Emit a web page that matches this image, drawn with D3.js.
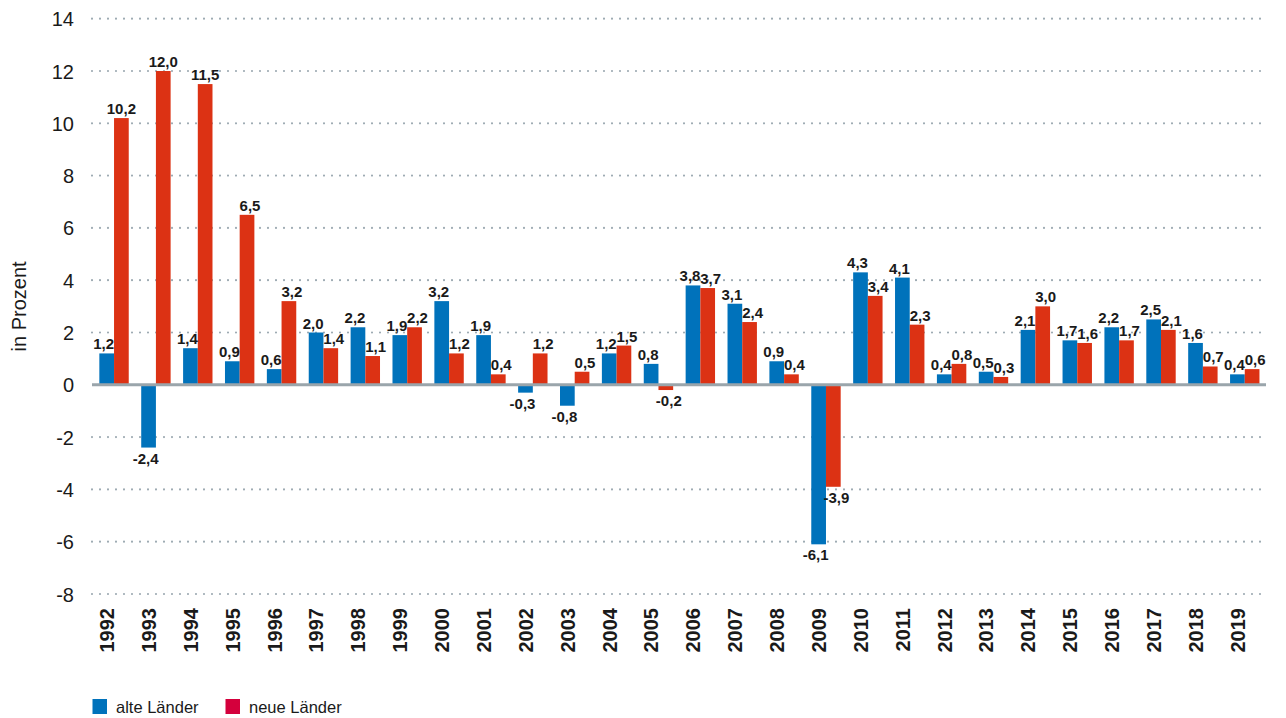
<!DOCTYPE html>
<html lang="de">
<head>
<meta charset="utf-8">
<script src="https://cdn.jsdelivr.net/npm/d3@7"></script>
<style>
  html, body { margin: 0; padding: 0; background: #fff; }
  svg { display: block; font-family: "Liberation Sans", Arial, sans-serif; }
</style>
</head>
<body>
<svg id="chart" width="1286" height="718"></svg>
<script>
// Veränderung gegenüber Vorjahr, in Prozent
const years = ["1992","1993","1994","1995","1996","1997","1998","1999","2000","2001",
  "2002","2003","2004","2005","2006","2007","2008","2009","2010","2011",
  "2012","2013","2014","2015","2016","2017","2018","2019"];
const alteLaender = [1.2, -2.4, 1.4, 0.9, 0.6, 2.0, 2.2, 1.9, 3.2, 1.9,
  -0.3, -0.8, 1.2, 0.8, 3.8, 3.1, 0.9, -6.1, 4.3, 4.1,
  0.4, 0.5, 2.1, 1.7, 2.2, 2.5, 1.6, 0.4];
const neueLaender = [10.2, 12.0, 11.5, 6.5, 3.2, 1.4, 1.1, 2.2, 1.2, 0.4,
  1.2, 0.5, 1.5, -0.2, 3.7, 2.4, 0.4, -3.9, 3.4, 2.3,
  0.8, 0.3, 3.0, 1.6, 1.7, 2.1, 0.7, 0.6];
const yTicks = [-8, -6, -4, -2, 0, 2, 4, 6, 8, 10, 12, 14];
const seriesNames = ["alte Länder", "neue Länder"];

const colors = { alt: "#0072bb", neu: "#dc3214" };
const legendColors = ["#0072bb", "#d4003c"];
const textColor = "#1a1a1a";

const svg = d3.select("#chart");

const x = d3.scaleBand().domain(years).range([93.1, 1265.7])
  .paddingInner(0.298).paddingOuter(0.149);
const xSub = d3.scaleBand().domain(["alt", "neu"]).range([0, x.bandwidth()]);
const y = d3.scaleLinear().domain([-8, 14]).range([594, 18.7]);

const gridX0 = 92, gridX1 = 1266;

// dotted horizontal gridlines
svg.append("g").selectAll("line")
  .data(yTicks.filter(t => t !== 0))
  .join("line")
  .attr("x1", gridX0).attr("x2", gridX1)
  .attr("y1", d => y(d)).attr("y2", d => y(d))
  .attr("stroke", "#9eabb3")
  .attr("stroke-width", 2.2)
  .attr("stroke-linecap", "round")
  .attr("stroke-dasharray", "0 8");

// y axis tick labels
const yAxis = d3.axisLeft(y).tickValues(yTicks).tickSize(0).tickPadding(0)
  .tickFormat(d => d3.format("d")(d).replace("−", "-"));
svg.append("g")
  .attr("transform", "translate(74,0)")
  .call(yAxis)
  .call(g => g.select(".domain").remove())
  .call(g => g.selectAll("text")
    .attr("font-size", 20)
    .attr("font-family", "Liberation Sans, Arial, sans-serif")
    .attr("fill", textColor)
    .attr("dy", "0.35em"));

// axis title
svg.append("text")
  .attr("transform", `translate(26,${y(3)}) rotate(-90)`)
  .attr("text-anchor", "middle")
  .attr("font-size", 20)
  .attr("fill", textColor)
  .text("in Prozent");

const rows = years.map((yr, i) => ({ year: yr, alt: alteLaender[i], neu: neueLaender[i] }));

const groups = svg.append("g").selectAll("g")
  .data(rows)
  .join("g")
  .attr("transform", d => `translate(${x(d.year)},0)`);

const barData = d => [
  { key: "alt", value: d.alt, shift: -3 },
  { key: "neu", value: d.neu, shift: d.neu > 9 ? 0 : 3 }
];

groups.selectAll("rect")
  .data(barData)
  .join("rect")
  .attr("x", d => xSub(d.key))
  .attr("width", xSub.bandwidth())
  .attr("y", d => y(Math.max(0, d.value)))
  .attr("height", d => Math.abs(y(d.value) - y(0)))
  .attr("fill", d => colors[d.key]);

// value labels
const fmt = v => d3.format(".1f")(v).replace("−", "-").replace(".", ",");
groups.selectAll("text.val")
  .data(barData)
  .join("text")
  .attr("class", "val")
  .attr("x", d => xSub(d.key) + xSub.bandwidth() / 2 + d.shift)
  .attr("y", d => d.value >= 0 ? y(d.value) - 4 : y(d.value) + 16)
  .attr("text-anchor", "middle")
  .attr("font-size", 15)
  .attr("font-weight", "bold")
  .attr("fill", textColor)
  .text(d => fmt(d.value));

// zero line
svg.append("line")
  .attr("x1", gridX0).attr("x2", gridX1)
  .attr("y1", y(0)).attr("y2", y(0))
  .attr("stroke", "#9aa5ab")
  .attr("stroke-width", 3);

// year labels
svg.append("g").selectAll("text")
  .data(years)
  .join("text")
  .attr("transform", d => `translate(${x(d) + x.bandwidth() / 2},608) rotate(-90)`)
  .attr("text-anchor", "end")
  .attr("font-size", 20)
  .attr("font-weight", "bold")
  .attr("fill", textColor)
  .text(d => d);

// legend
const legendX = [92.5, 225.5];
const legend = svg.append("g").selectAll("g")
  .data(seriesNames)
  .join("g")
  .attr("transform", (d, i) => `translate(${legendX[i]},699)`);
legend.append("rect")
  .attr("width", 14.5).attr("height", 15)
  .attr("fill", (d, i) => legendColors[i]);
legend.append("text")
  .attr("x", 23.5).attr("y", 13.5)
  .attr("font-size", 16.5)
  .attr("fill", textColor)
  .text(d => d);
</script>
</body>
</html>
